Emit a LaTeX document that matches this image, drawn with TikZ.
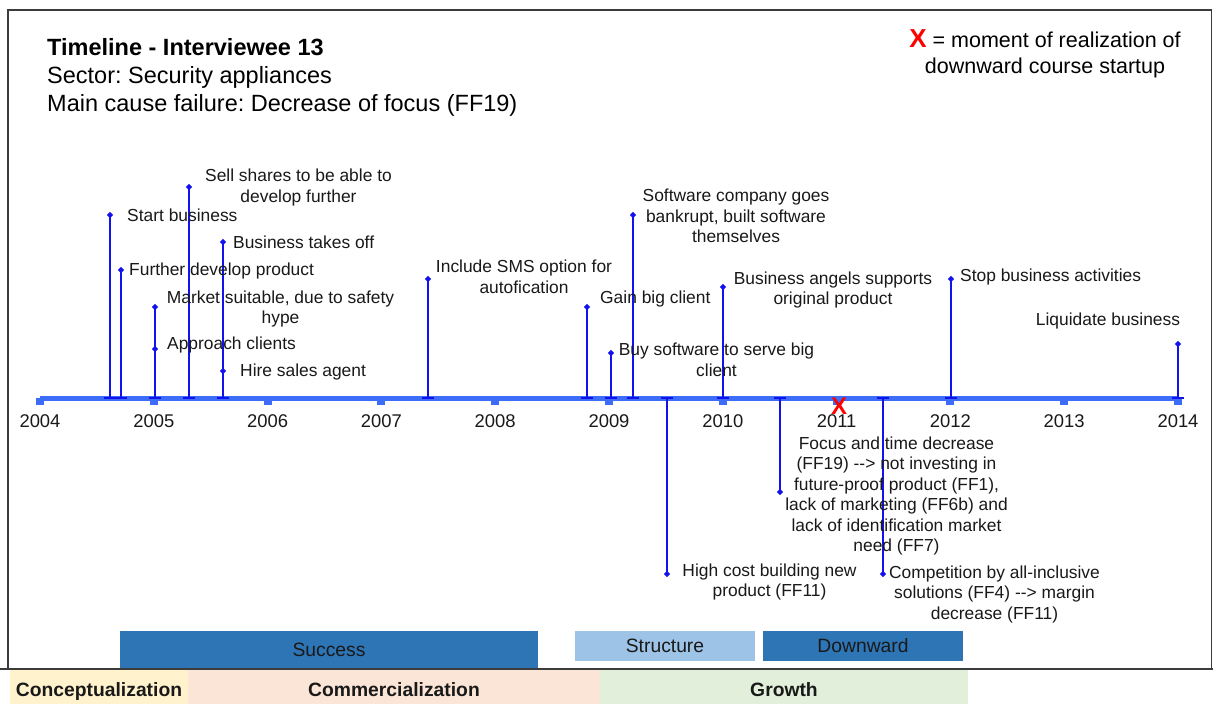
\documentclass[tikz,border=0pt]{standalone}
\usepackage{fontspec}
\setmainfont{Liberation Sans}
\usetikzlibrary{shapes.geometric}
\frenchspacing
\definecolor{axisblue}{RGB}{60,108,248}
\definecolor{evblue}{RGB}{18,18,238}
\definecolor{darkbar}{RGB}{46,117,182}
\definecolor{lightbar}{RGB}{157,195,230}
\definecolor{concfill}{RGB}{255,242,204}
\definecolor{commfill}{RGB}{251,229,214}
\definecolor{growfill}{RGB}{226,239,218}
\definecolor{framegray}{RGB}{60,60,60}
% a plain "-->" arrow made of characters, kept apart from the dash ligature
\newcommand{\txtarrow}{-\kern0pt-\kern0pt>}
% one event: stem from the axis to a diamond marker, with a cap on the axis
\newcommand{\evstem}[3]{%
  \coordinate (#1base) at (#2,398);
  \node[evmark] (#1) at (#2,#3) {};
  \draw[stem] (#1base) -- (#1.center);
  \draw[stem] ([xshift=-6pt]#1base) -- ([xshift=6pt]#1base);
}
\begin{document}
\begin{tikzpicture}[x=1pt,y=-1pt,
  lbl/.style={font=\fontsize{17.4}{20.5}\selectfont, inner sep=0pt, align=center, text=black!90},
  yearlbl/.style={font=\fontsize{18.4}{20}\selectfont, inner sep=0pt, text=black!90},
  stem/.style={draw=evblue, line width=1.3pt},
  evmark/.style={diamond, fill=evblue, inner sep=0pt, minimum size=6.5pt},
  axisline/.style={draw=axisblue, line width=5pt},
  phasebar/.style={rectangle, inner sep=0pt, font=\fontsize{19.3}{22}\selectfont, text=black!90},
  stagecell/.style={rectangle, inner sep=0pt, font=\fontsize{19.3}{22}\selectfont\bfseries, text=black!90, text height=14pt, text depth=4pt}
]
\useasboundingbox (0,0) rectangle (1213,704);
\fill[white] (0,0) rectangle (1213,704);

% stage cells along the bottom
\node[stagecell, fill=concfill, minimum width=178pt, minimum height=42pt] (conc) at (99,691) {Conceptualization};
\node[stagecell, fill=commfill, minimum width=412pt, minimum height=42pt] (comm) at (394,691) {Commercialization};
\node[stagecell, fill=growfill, minimum width=368pt, minimum height=42pt] (grow) at (784,691) {Growth};

% frame
\draw[framegray, line width=1.2pt] (8,669) -- (8,10) -- (1211.5,10) -- (1211.5,669);
\draw[framegray, line width=1.2pt] (0,669) -- (1213,669);

% course phases
\node[phasebar, fill=darkbar, minimum width=418pt, minimum height=37pt] (succ) at (329,649.5) {Success};
\node[phasebar, fill=lightbar, minimum width=180pt, minimum height=30pt] (strc) at (665,646) {Structure};
\node[phasebar, fill=darkbar, minimum width=200pt, minimum height=30pt] (down) at (863,646) {Downward};

% heading
\node[anchor=base west, inner sep=0pt, font=\fontsize{23.5}{27}\selectfont\bfseries] (title) at (47,55) {Timeline - Interviewee 13};
\node[anchor=base west, inner sep=0pt, font=\fontsize{23.5}{27}\selectfont] (sector) at (47,83) {Sector: Security appliances};
\node[anchor=base west, inner sep=0pt, font=\fontsize{23.5}{27}\selectfont] (cause) at (47,111) {Main cause failure: Decrease of focus (FF19)};

% legend
\node[inner sep=0pt, align=center, font=\fontsize{21.5}{25.5}\selectfont] (legend) at (1045,54)
  {{\color{red}\fontsize{26}{25}\selectfont\bfseries X} = moment of realization of\\downward course startup};

% axis with yearly ticks
\coordinate (ax0) at (40,398);
\coordinate (ax1) at (1178,398);
\draw[axisline] (ax0) -- (ax1);
\foreach \i in {0,...,10} {
  \pgfmathtruncatemacro{\yr}{2004+\i}
  \fill[axisblue] ({40+113.8*\i-4},398) rectangle ({40+113.8*\i+4},404.5);
  \node[yearlbl] (y\yr) at ({40+113.8*\i},421) {\yr};
}

% events above the axis
\evstem{eStart}{110}{215}
\evstem{eFurther}{121}{270}
\evstem{eMarket}{155}{307}
\evstem{eApproach}{155}{349}
\evstem{eShares}{189}{187}
\evstem{eTakeoff}{223}{242}
\evstem{eAgent}{223}{371}
\evstem{eSms}{428}{279}
\evstem{eGain}{587}{307}
\evstem{eBuy}{611}{353}
\evstem{eBankrupt}{633}{215}
\evstem{eAngels}{723}{287}
\evstem{eStop}{951}{279}
\evstem{eLiquidate}{1178}{344}
% events below the axis
\evstem{eCost}{667}{574}
\evstem{eFocus}{780}{492}
\evstem{eCompetition}{883}{574}

\node[lbl, anchor=west] (tStart) at (127,215) {Start business};
\node[lbl, anchor=west] (tFurther) at (129,271) {Further develop product};
\node[lbl] (tMarket) at (280.5,309) {Market suitable, due to safety\\hype};
\node[lbl, anchor=west] (tApproach) at (167,345) {Approach clients};
\node[lbl] (tShares) at (298.5,187.5) {Sell shares to be able to\\develop further};
\node[lbl, anchor=west] (tTakeoff) at (233,242) {Business takes off};
\node[lbl, anchor=west] (tAgent) at (240,372) {Hire sales agent};
\node[lbl] (tSms) at (524,277) {Include SMS option for\\autofication};
\node[lbl, anchor=west] (tGain) at (600,299) {Gain big client};
\node[lbl] (tBuy) at (716.5,360) {Buy software to serve big\\client};
\node[lbl] (tBankrupt) at (736,216) {Software company goes\\bankrupt, built software\\themselves};
\node[lbl] (tAngels) at (833,290) {Business angels supports\\original product};
\node[lbl, anchor=west] (tStop) at (960,277) {Stop business activities};
\node[lbl] (tLiquidate) at (1108,321) {Liquidate business};
\node[lbl] (tCost) at (769.5,582) {High cost building new\\product (FF11)};
\node[lbl] (tFocus) at (896.5,496) {Focus and time decrease\\(FF19) \txtarrow{} not investing in\\future-proof product (FF1),\\lack of marketing (FF6b) and\\lack of identification market\\need (FF7)};
\node[lbl] (tCompetition) at (994.5,594) {Competition by all-inclusive\\solutions (FF4) \txtarrow{} margin\\decrease (FF11)};

% moment of realization
\node[inner sep=0pt, text=red, font=\fontsize{24}{24}\selectfont\bfseries] (realize) at (839,406) {X};
\end{tikzpicture}
\end{document}
